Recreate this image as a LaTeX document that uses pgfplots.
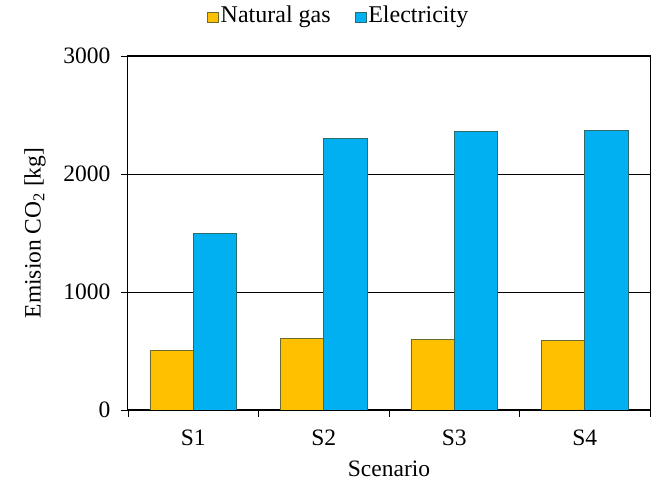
\documentclass[border=0pt]{standalone}
\usepackage{pgfplots}
\pgfplotsset{compat=1.18}
\usepackage{fontspec}
\setmainfont{Liberation Serif}
\definecolor{gas}{HTML}{FFC000}
\definecolor{elec}{HTML}{00B0F0}
\definecolor{gasedge}{HTML}{6B6B2E}
\definecolor{elecedge}{HTML}{2E6B6B}
\begin{document}
\begin{tikzpicture}
\begin{axis}[
  at={(0pt,0pt)}, anchor=south west,
  scale only axis, width=522pt, height=354pt,
  ybar=0pt, bar width=43.3pt,
  xmin=-0.5, xmax=3.5, ymin=0, ymax=3000,
  xtick={0,1,2,3}, xticklabels={S1,S2,S3,S4},
  minor xtick={-0.5,0.5,1.5,2.5,3.5},
  ytick={0,1000,2000,3000},
  ymajorgrids, major grid style={black, line width=0.9pt},
  tick pos=left, tick align=outside,
  major tick length=7pt, minor tick length=7pt,
  major x tick style={draw=none},
  minor x tick style={black, line width=0.9pt},
  major y tick style={black, line width=0.9pt},
  axis line style={line width=1pt},
  tick label style={font=\fontsize{23.5}{28}\selectfont},
  /pgf/number format/assume math mode=true,
  /pgf/number format/set thousands separator={},
  yticklabel style={xshift=-7pt},
  xticklabel style={yshift=-9pt},
  ylabel={Emision CO\textsubscript{2} [kg]},
  xlabel={Scenario},
  label style={font=\fontsize{23.5}{28}\selectfont},
  ylabel style={at={(axis description cs:-0.178,0.5)}, anchor=center},
  xlabel style={at={(axis description cs:0.5,-0.166)}, anchor=center},
  legend style={at={(axis description cs:0.4036,1.116)}, anchor=center, draw=none, fill=none,
    legend columns=2, font=\fontsize{24}{28}\selectfont,
    /tikz/every even column/.append style={column sep=22pt}},
  legend image code/.code={\draw[#1, line width=0.6pt] (0pt,-7pt) rectangle (11pt,3pt);},
]
\addplot[fill=gas, draw=gasedge, line width=0.8pt] coordinates {(0,505) (1,610) (2,596) (3,590)};
\addplot[fill=elec, draw=elecedge, line width=0.8pt] coordinates {(0,1493) (1,2302) (2,2358) (3,2366)};
\legend{Natural gas, Electricity}
\end{axis}
\pgfresetboundingbox
\useasboundingbox (-128pt,-71pt) rectangle (541pt,410pt);
\end{tikzpicture}
\end{document}
